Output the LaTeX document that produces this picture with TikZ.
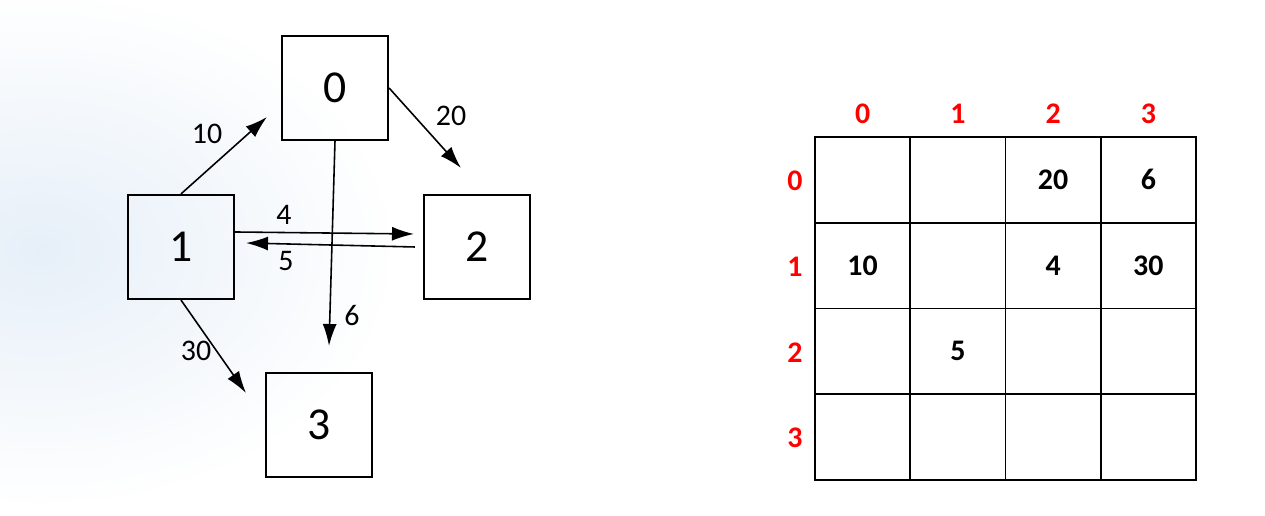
\documentclass[tikz,border=0pt]{standalone}
\usepackage{fontspec}
\setmainfont{Carlito}
\usetikzlibrary{positioning,arrows.meta,calc}
\definecolor{bgblue}{RGB}{230,239,248}
\tikzset{
  vbox/.style={draw=black,line width=0.6pt,minimum width=1.06cm,
               minimum height=1.04cm,inner sep=0pt,font=\fontsize{13}{15}\selectfont},
  earr/.style={-{Latex[length=2.2mm,width=1.4mm]},line width=0.45pt},
  elabel/.style={font=\fontsize{8.5}{10}\selectfont,inner sep=1pt},
  cell/.style={draw=black,line width=0.5pt,minimum width=0.9525cm,
               minimum height=0.8575cm,inner sep=0pt,font=\bfseries\fontsize{8.5}{10}\selectfont},
  hdr/.style={text=red,font=\bfseries\fontsize{8.5}{10}\selectfont,inner sep=0pt}
}
\begin{document}
\begin{tikzpicture}[x=0.01cm,y=-0.01cm]
\useasboundingbox (0,0) rectangle (1265,516);
% light background
\shade[inner color=bgblue,outer color=white] (40,250) ellipse [x radius=3.6cm,y radius=2.6cm];

% graph
\node[vbox] (n0) at (335,88)  {0};
\node[vbox] (n1) at (181,247) {1};
\node[vbox] (n2) at (477,247) {2};
\node[vbox] (n3) at (319,425) {3};

\coordinate (t10) at (267,117);
\coordinate (t02) at (461,168);
\coordinate (t03) at (329,346);
\coordinate (t12) at (414,234);
\coordinate (t21) at (246,243);
\coordinate (t13) at (246,393);

\draw[earr] (n1.north) -- (t10);
\draw[earr] (n0.east) -- (t02);
\draw[earr] (n0.south) -- (t03);
\draw[earr] ([yshift=0.15cm]n1.east) -- (t12);
\draw[earr] ([xshift=-0.08cm]n2.west) -- (t21);
\draw[earr] (n1.south) -- (t13);

\node[elabel] (w10) at (207,134) {10};
\node[elabel] (w20) at (451,116) {20};
\node[elabel] (w6)  at (352,316) {6};
\node[elabel] (w4)  at (284,215) {4};
\node[elabel] (w5)  at (286,261) {5};
\node[elabel] (w30) at (196,351) {30};

% adjacency matrix
\foreach \i in {0,...,3}{
  \foreach \j in {0,...,3}{
    \node[cell] (c\i\j) at ({862.6+95.25*\j},{179.9+85.75*\i}) {};
  }
  \node[hdr] (col\i) at ({862.6+95.25*\i},114) {\i};
  \node[hdr] (row\i) at (795,{181+85.75*\i}) {\i};
}
\node[font=\bfseries\fontsize{8.5}{10}\selectfont] at (c02) {20};
\node[font=\bfseries\fontsize{8.5}{10}\selectfont] at (c03) {6};
\node[font=\bfseries\fontsize{8.5}{10}\selectfont] at (c10) {10};
\node[font=\bfseries\fontsize{8.5}{10}\selectfont] at (c12) {4};
\node[font=\bfseries\fontsize{8.5}{10}\selectfont] at (c13) {30};
\node[font=\bfseries\fontsize{8.5}{10}\selectfont] at (c21) {5};
\end{tikzpicture}
\end{document}
